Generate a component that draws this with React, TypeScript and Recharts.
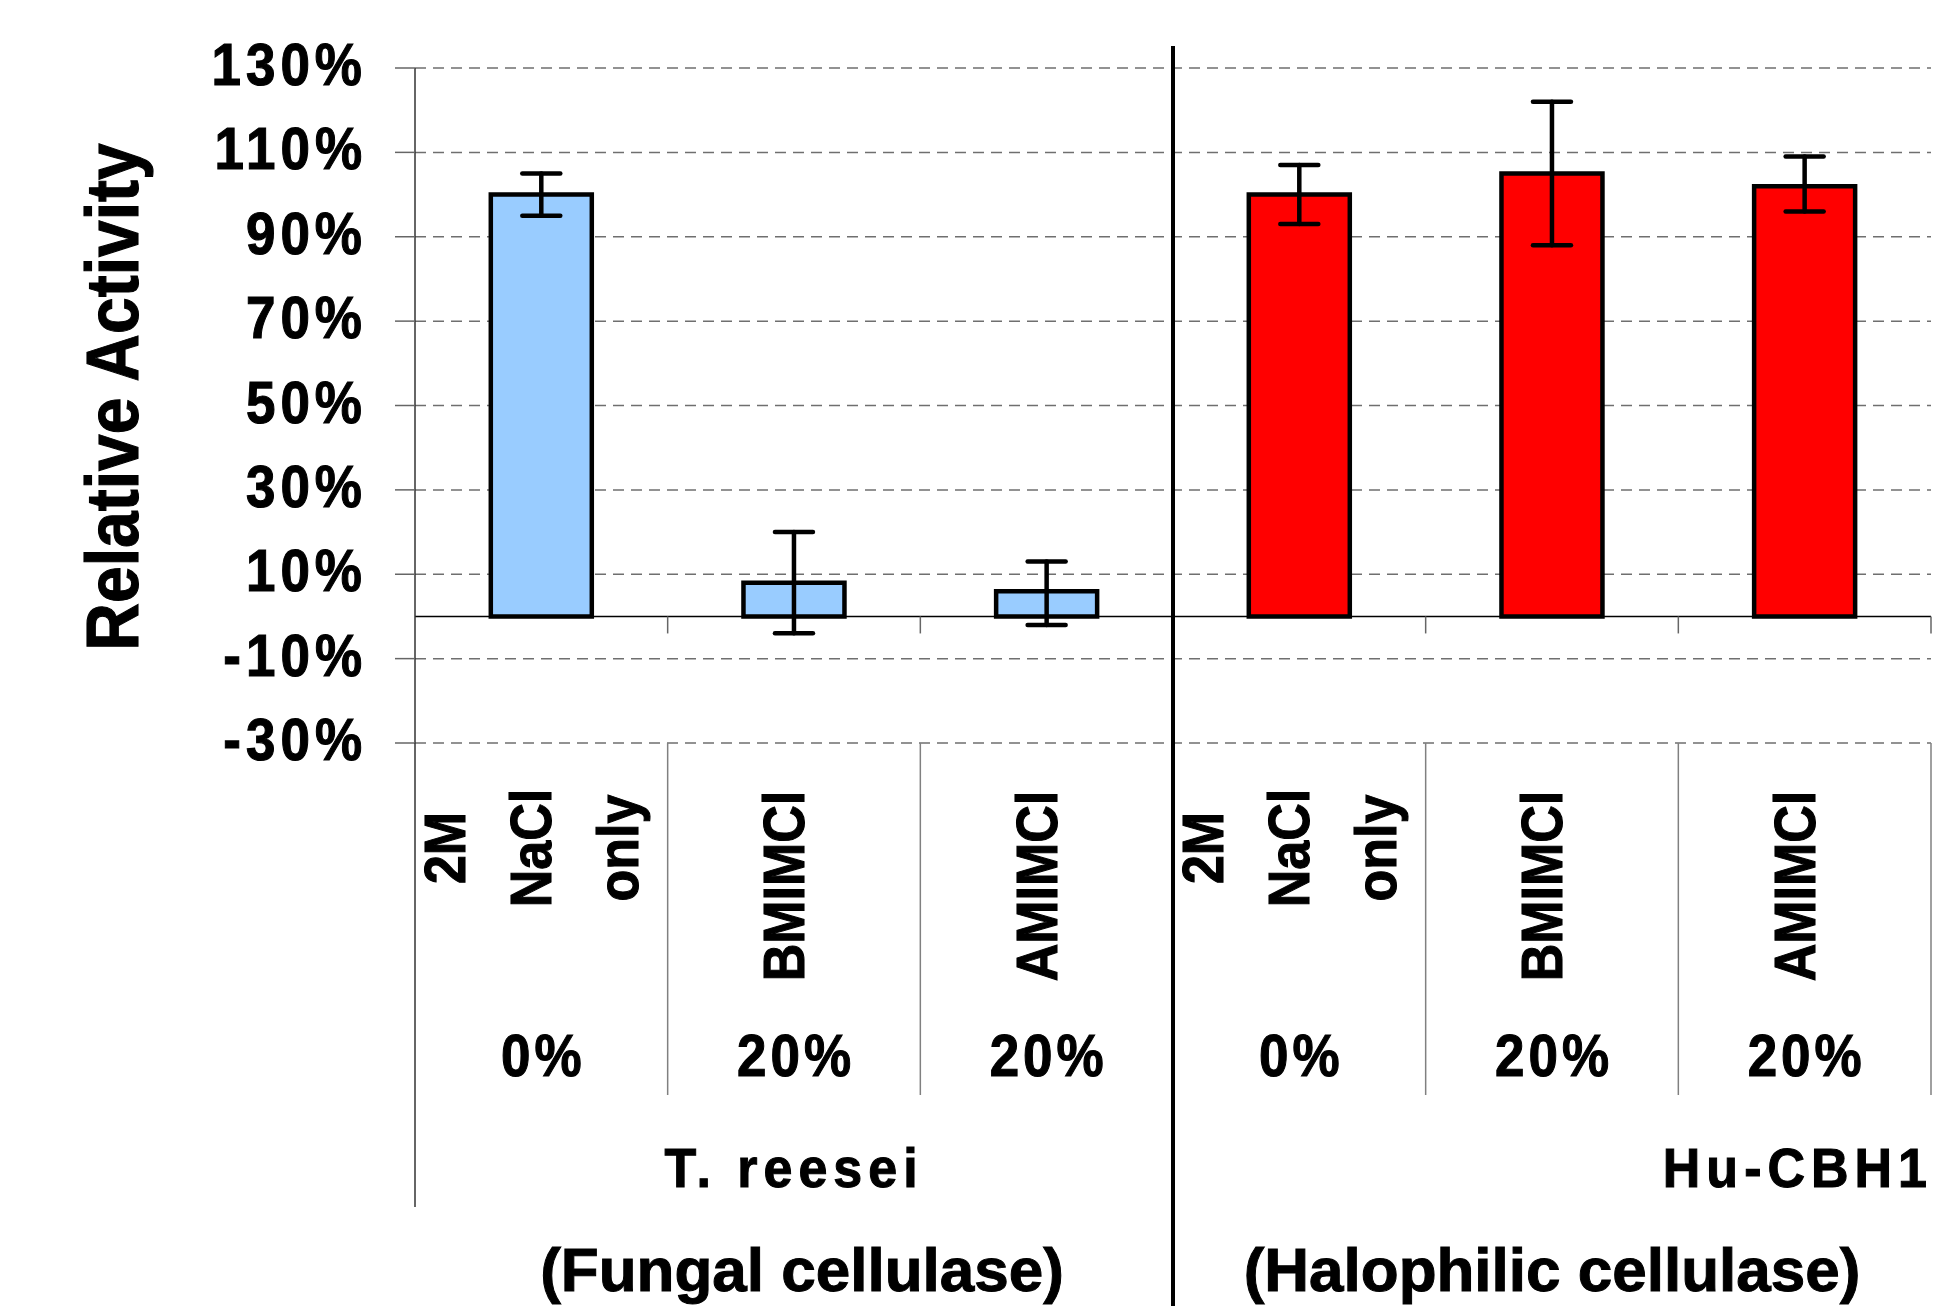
import React from 'react';
import {
  BarChart,
  Bar,
  XAxis,
  YAxis,
  CartesianGrid,
  ReferenceLine,
  ErrorBar,
  Cell,
} from 'recharts';

// Chart values
const categoryWords = [
  ['2M', 'NaCl', 'only'],
  ['BMIMCl'],
  ['AMIMCl'],
  ['2M', 'NaCl', 'only'],
  ['BMIMCl'],
  ['AMIMCl'],
];
const concentrations = ['0%', '20%', '20%', '0%', '20%', '20%'];
const enzymeOf = [0, 0, 0, 1, 1, 1];
const activity = [100, 8, 6, 100, 105, 102];
const errorLow = [5, 12, 8, 7, 17, 6];
const errorHigh = [5, 12, 7, 7, 17, 7];

const enzymes = ['T. reesei', 'Hu-CBH1'];
const enzymeTypes = ['(Fungal cellulase)', '(Halophilic cellulase)'];
const enzymeColors = ['#99CCFF', '#FF0000'];
const yTicks = [-30, -10, 10, 30, 50, 70, 90, 110, 130];

const rows = activity.map((v, i) => ({
  key: `c${i}`,
  value: v,
  err: [errorLow[i], errorHigh[i]],
  enzyme: enzymeOf[i],
}));

// layout
const W = 1935;
const H = 1306;
const PLOT_LEFT = 415;
const PLOT_RIGHT = 1931;
const PLOT_TOP = 68;
const PLOT_BOTTOM = 743;
const BAND = (PLOT_RIGHT - PLOT_LEFT) / rows.length;
const Y_MIN = -30;
const Y_MAX = 130;
const ZERO_Y = PLOT_TOP + ((Y_MAX - 0) / (Y_MAX - Y_MIN)) * (PLOT_BOTTOM - PLOT_TOP);

const FONT = '"Liberation Sans", Arial, Helvetica, sans-serif';
const textStyle = {
  fontFamily: FONT,
  fontWeight: 700,
  fill: '#000',
  stroke: '#000',
  strokeWidth: 1,
} as const;

function YTick(props: any) {
  const { y, payload } = props;
  return (
    <text
      transform={`translate(${PLOT_LEFT - 48},${y + 17}) scale(1,1.1)`}
      textAnchor="end"
      fontSize={53}
      letterSpacing={5}
      style={textStyle}
    >
      {`${payload.value}%`}
    </text>
  );
}

function YTitle() {
  return (
    <text
      transform={`translate(138,397) rotate(-90) scale(1,1.12)`}
      textAnchor="middle"
      fontSize={66}
      style={textStyle}
    >
      Relative Activity
    </text>
  );
}

function CategoryTick(props: any) {
  const { x } = props;
  const i: number =
    typeof props.index === 'number'
      ? props.index
      : rows.findIndex((r) => r.key === props.payload?.value);
  const half = BAND / 2;
  const words = categoryWords[i];
  const n = words.length;
  const cy = n > 1 ? 848 : 886;
  const isGroupEnd = i < rows.length - 1 && enzymeOf[i] !== enzymeOf[i + 1];
  const isGroupMid = i % 3 === 1;
  const g = enzymeOf[i];

  return (
    <g>
      {words.map((w, k) => (
        <text
          key={k}
          transform={`translate(${x + 10 + (k - (n - 1) / 2) * 86.5},${cy}) rotate(-90) scale(1,1.1)`}
          textAnchor="middle"
          fontSize={52}
          style={textStyle}
        >
          {w}
        </text>
      ))}
      <text
        transform={`translate(${x + 2},1076) scale(1,1.1)`}
        textAnchor="middle"
        fontSize={53}
        letterSpacing={4}
        style={textStyle}
      >
        {concentrations[i]}
      </text>
      {/* tick below zero line at category boundary */}
      <line x1={x + half} x2={x + half} y1={ZERO_Y} y2={ZERO_Y + 17} stroke="#666" strokeWidth={1.5} />
      {isGroupEnd ? (
        <line x1={x + half} x2={x + half} y1={46} y2={H} stroke="#000" strokeWidth={4} />
      ) : (
        <line x1={x + half} x2={x + half} y1={PLOT_BOTTOM} y2={1095} stroke="#808080" strokeWidth={1.5} />
      )}
      {i === 0 && (
        <line x1={x - half} x2={x - half} y1={PLOT_BOTTOM} y2={1207} stroke="#333" strokeWidth={1.5} />
      )}
      {isGroupMid && (
        <g>
          <text
            transform={`translate(${g === 0 ? x : W - 2},1187) scale(1,1.08)`}
            textAnchor={g === 0 ? 'middle' : 'end'}
            fontSize={52}
            letterSpacing={6}
            style={textStyle}
          >
            {enzymes[g]}
          </text>
          <text x={x + (g === 0 ? 8 : 0)} y={1291} textAnchor="middle" fontSize={62} style={textStyle}>
            {enzymeTypes[g]}
          </text>
        </g>
      )}
    </g>
  );
}

export default function App() {
  return (
    <div style={{ position: 'absolute', left: 0, top: 0, width: W, height: H, background: '#fff' }}>
      <BarChart
        width={W}
        height={H}
        data={rows}
        margin={{ top: PLOT_TOP, right: W - PLOT_RIGHT, bottom: 0, left: 0 }}
        barCategoryGap="30%"
      >
        <CartesianGrid
          vertical={false}
          stroke="#6f6f6f"
          strokeWidth={1.5}
          strokeDasharray="11 7"
        />
        <XAxis
          dataKey="key"
          height={H - PLOT_BOTTOM}
          axisLine={false}
          tickLine={false}
          interval={0}
          tick={<CategoryTick />}
        />
        <YAxis
          type="number"
          width={PLOT_LEFT}
          domain={[Y_MIN, Y_MAX]}
          ticks={yTicks}
          interval={0}
          tickSize={20}
          tickLine={{ stroke: '#666', strokeWidth: 1.5 }}
          axisLine={{ stroke: '#333', strokeWidth: 1.5 }}
          tick={<YTick />}
          label={<YTitle />}
        />
        <ReferenceLine y={0} stroke="#000" strokeWidth={1.5} />
        <Bar dataKey="value" stroke="#000" strokeWidth={4.5} isAnimationActive={false}>
          {rows.map((r, i) => (
            <Cell key={i} fill={enzymeColors[r.enzyme]} />
          ))}
          <ErrorBar
            dataKey="err"
            direction="y"
            width={19}
            stroke="#000"
            strokeWidth={4.5}
            strokeLinecap="round"
            isAnimationActive={false}
          />
        </Bar>
      </BarChart>
    </div>
  );
}
